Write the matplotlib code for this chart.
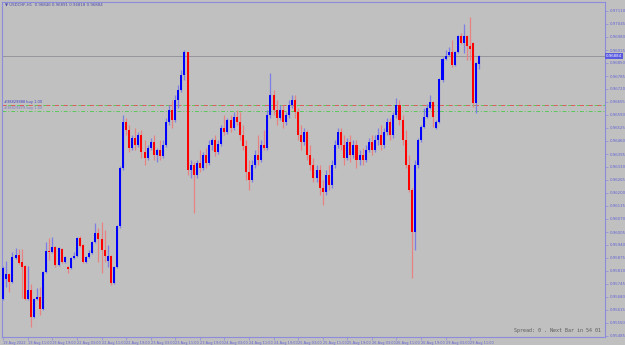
import matplotlib
matplotlib.use('Agg')
import matplotlib.pyplot as plt
import matplotlib.transforms as mtransforms
import numpy as np

# ---------------- data (USDCHF H1, 156 bars from 19 Aug 2022 03:00) ----------------
open_ = [0.95670, 0.95770, 0.95795, 0.95755, 0.95875, 0.95890, 0.95855, 0.95835, 0.95670, 0.95715,
         0.95580, 0.95670, 0.95680, 0.95620, 0.95805, 0.95910, 0.95905, 0.95930, 0.95840, 0.95920,
         0.95855, 0.95830, 0.95825, 0.95875, 0.95885, 0.95975, 0.95940, 0.95855, 0.95880, 0.95900,
         0.95955, 0.96000, 0.95970, 0.95915, 0.95860, 0.95885, 0.95750, 0.95830, 0.96035, 0.96325,
         0.96555, 0.96515, 0.96425, 0.96475, 0.96440, 0.96490, 0.96405, 0.96375, 0.96425, 0.96455,
         0.96390, 0.96415, 0.96385, 0.96440, 0.96555, 0.96615, 0.96565, 0.96665, 0.96715, 0.96790,
         0.96905, 0.96315, 0.96340, 0.96290, 0.96350, 0.96325, 0.96390, 0.96350, 0.96440, 0.96465,
         0.96405, 0.96445, 0.96525, 0.96505, 0.96565, 0.96525, 0.96580, 0.96555, 0.96490, 0.96435,
         0.96305, 0.96265, 0.96340, 0.96390, 0.96365, 0.96440, 0.96425, 0.96590, 0.96690, 0.96615,
         0.96575, 0.96615, 0.96555, 0.96590, 0.96640, 0.96665, 0.96605, 0.96490, 0.96455, 0.96505,
         0.96390, 0.96340, 0.96275, 0.96315, 0.96225, 0.96205, 0.96290, 0.96240, 0.96340, 0.96440,
         0.96505, 0.96440, 0.96375, 0.96455, 0.96390, 0.96440, 0.96365, 0.96390, 0.96365, 0.96415,
         0.96455, 0.96415, 0.96465, 0.96490, 0.96440, 0.96505, 0.96555, 0.96490, 0.96590, 0.96640,
         0.96565, 0.96465, 0.96340, 0.96215, 0.96005, 0.96340, 0.96465, 0.96530, 0.96580, 0.96625,
         0.96655, 0.96525, 0.96555, 0.96765, 0.96870, 0.96890, 0.96905, 0.96840, 0.96905, 0.96985,
         0.96950, 0.96985, 0.96935, 0.96950, 0.96650, 0.96846]
high = [0.95835, 0.95860, 0.95795, 0.95905, 0.95925, 0.95920, 0.95920, 0.95840, 0.95835, 0.95745,
        0.95675, 0.95725, 0.95730, 0.95810, 0.95955, 0.95975, 0.95980, 0.95935, 0.95930, 0.95925,
        0.95885, 0.95835, 0.95880, 0.95905, 0.95980, 0.95985, 0.95945, 0.95885, 0.95915, 0.95960,
        0.96050, 0.96025, 0.96055, 0.96015, 0.95940, 0.95890, 0.95835, 0.96040, 0.96335, 0.96590,
        0.96575, 0.96540, 0.96490, 0.96525, 0.96505, 0.96515, 0.96465, 0.96440, 0.96475, 0.96490,
        0.96425, 0.96465, 0.96465, 0.96575, 0.96640, 0.96665, 0.96690, 0.96740, 0.96815, 0.96915,
        0.96905, 0.96365, 0.96355, 0.96365, 0.96415, 0.96405, 0.96425, 0.96465, 0.96475, 0.96490,
        0.96465, 0.96540, 0.96590, 0.96575, 0.96590, 0.96605, 0.96615, 0.96605, 0.96540, 0.96465,
        0.96365, 0.96365, 0.96415, 0.96490, 0.96465, 0.96515, 0.96615, 0.96800, 0.96715, 0.96665,
        0.96640, 0.96640, 0.96605, 0.96665, 0.96690, 0.96690, 0.96625, 0.96540, 0.96525, 0.96515,
        0.96440, 0.96375, 0.96340, 0.96340, 0.96265, 0.96315, 0.96340, 0.96365, 0.96465, 0.96525,
        0.96525, 0.96490, 0.96475, 0.96490, 0.96465, 0.96465, 0.96415, 0.96425, 0.96440, 0.96475,
        0.96490, 0.96490, 0.96525, 0.96540, 0.96525, 0.96575, 0.96575, 0.96605, 0.96675, 0.96665,
        0.96590, 0.96515, 0.96390, 0.96225, 0.96365, 0.96475, 0.96540, 0.96625, 0.96645, 0.96690,
        0.96660, 0.96565, 0.96775, 0.96880, 0.96915, 0.96930, 0.96965, 0.96910, 0.96990, 0.97000,
        0.97045, 0.96990, 0.97080, 0.96955, 0.96855, 0.96891]
low = [0.95665, 0.95730, 0.95705, 0.95750, 0.95870, 0.95845, 0.95675, 0.95665, 0.95665, 0.95530,
       0.95575, 0.95665, 0.95590, 0.95615, 0.95800, 0.95865, 0.95900, 0.95830, 0.95835, 0.95850,
       0.95850, 0.95800, 0.95820, 0.95870, 0.95880, 0.95930, 0.95850, 0.95850, 0.95875, 0.95895,
       0.95950, 0.95855, 0.95800, 0.95855, 0.95830, 0.95740, 0.95745, 0.95825, 0.96025, 0.96315,
       0.96490, 0.96405, 0.96415, 0.96415, 0.96430, 0.96375, 0.96340, 0.96365, 0.96415, 0.96365,
       0.96355, 0.96365, 0.96375, 0.96430, 0.96540, 0.96525, 0.96555, 0.96625, 0.96705, 0.96765,
       0.96290, 0.96275, 0.96100, 0.96275, 0.96305, 0.96315, 0.96325, 0.96340, 0.96415, 0.96385,
       0.96395, 0.96435, 0.96490, 0.96495, 0.96505, 0.96515, 0.96540, 0.96465, 0.96415, 0.96265,
       0.96215, 0.96255, 0.96325, 0.96340, 0.96355, 0.96415, 0.96415, 0.96575, 0.96590, 0.96540,
       0.96565, 0.96525, 0.96540, 0.96575, 0.96625, 0.96575, 0.96465, 0.96415, 0.96440, 0.96365,
       0.96315, 0.96255, 0.96255, 0.96190, 0.96140, 0.96190, 0.96215, 0.96225, 0.96325, 0.96425,
       0.96415, 0.96340, 0.96365, 0.96355, 0.96375, 0.96325, 0.96340, 0.96340, 0.96355, 0.96405,
       0.96390, 0.96405, 0.96440, 0.96415, 0.96425, 0.96490, 0.96465, 0.96475, 0.96575, 0.96540,
       0.96440, 0.96325, 0.96205, 0.95775, 0.95915, 0.96325, 0.96455, 0.96525, 0.96575, 0.96620,
       0.96530, 0.96520, 0.96550, 0.96755, 0.96865, 0.96885, 0.96830, 0.96835, 0.96900, 0.96945,
       0.96900, 0.96865, 0.96865, 0.96630, 0.96600, 0.96818]
close = [0.95825, 0.95795, 0.95755, 0.95880, 0.95890, 0.95850, 0.95830, 0.95670, 0.95715, 0.95580,
         0.95670, 0.95680, 0.95620, 0.95805, 0.95910, 0.95905, 0.95930, 0.95840, 0.95925, 0.95855,
         0.95880, 0.95820, 0.95875, 0.95885, 0.95975, 0.95935, 0.95855, 0.95880, 0.95900, 0.95955,
         0.96000, 0.95970, 0.95915, 0.95885, 0.95885, 0.95750, 0.95830, 0.96035, 0.96325, 0.96555,
         0.96515, 0.96425, 0.96475, 0.96440, 0.96490, 0.96405, 0.96375, 0.96425, 0.96455, 0.96390,
         0.96415, 0.96385, 0.96440, 0.96555, 0.96615, 0.96565, 0.96665, 0.96715, 0.96790, 0.96905,
         0.96315, 0.96340, 0.96290, 0.96350, 0.96325, 0.96390, 0.96350, 0.96440, 0.96465, 0.96405,
         0.96445, 0.96525, 0.96505, 0.96565, 0.96525, 0.96580, 0.96555, 0.96490, 0.96435, 0.96305,
         0.96265, 0.96340, 0.96390, 0.96365, 0.96440, 0.96425, 0.96590, 0.96690, 0.96615, 0.96575,
         0.96615, 0.96555, 0.96590, 0.96640, 0.96665, 0.96605, 0.96490, 0.96455, 0.96505, 0.96390,
         0.96340, 0.96275, 0.96315, 0.96225, 0.96205, 0.96290, 0.96240, 0.96340, 0.96440, 0.96505,
         0.96440, 0.96375, 0.96455, 0.96390, 0.96440, 0.96365, 0.96390, 0.96365, 0.96415, 0.96455,
         0.96415, 0.96465, 0.96490, 0.96440, 0.96505, 0.96555, 0.96490, 0.96590, 0.96640, 0.96565,
         0.96465, 0.96340, 0.96215, 0.96005, 0.96340, 0.96465, 0.96530, 0.96580, 0.96625, 0.96655,
         0.96580, 0.96555, 0.96770, 0.96870, 0.96885, 0.96905, 0.96840, 0.96905, 0.96985, 0.96950,
         0.96985, 0.96935, 0.96920, 0.96650, 0.96850, 0.96884]

ytick_values = [0.95485, 0.95550, 0.95615, 0.95680, 0.95745, 0.95810, 0.95875, 0.95940, 0.96005,
                0.96070, 0.96135, 0.96200, 0.96265, 0.96330, 0.96395, 0.96460, 0.96525, 0.96590,
                0.96655, 0.96720, 0.96785, 0.96850, 0.96915, 0.96980, 0.97045, 0.97110]
xtick_bars = [0, 8, 16, 24, 32, 40, 48, 56, 64, 72, 80, 88, 96, 104, 112, 120, 128, 136, 144, 152]
xtick_labels = ["19 Aug 2022", "19 Aug 11:00", "19 Aug 19:00", "22 Aug 03:00", "22 Aug 11:00",
                "22 Aug 19:00", "23 Aug 03:00", "23 Aug 11:00", "23 Aug 19:00", "24 Aug 03:00",
                "24 Aug 11:00", "24 Aug 19:00", "25 Aug 03:00", "25 Aug 11:00", "25 Aug 19:00",
                "26 Aug 03:00", "26 Aug 11:00", "26 Aug 19:00", "29 Aug 03:00", "29 Aug 11:00"]
current_price = 0.96884
order_levels = [0.96640, 0.96610]
order_labels = ["#38829888 buy 1.00", "#38829879 buy 1.00"]
title_text = "\u25bc USDCHF,H1  0.96846 0.96891 0.96818 0.96884"
status_text = "Spread: 0 . Next Bar in 54 01"

# ---------------- drawing ----------------
BG = '#c0c0c0'
AXC = '#8c8cdc'
fig = plt.figure(figsize=(6.25, 3.45), dpi=100, facecolor=BG)
ax = fig.add_axes([2 / 625, 8 / 345, 603 / 625, 335 / 345])
ax.set_facecolor(BG)

o = np.array(open_); h = np.array(high); l = np.array(low); c = np.array(close)
idx = np.arange(len(o))
bull = c >= o
body_col = np.where(bull, '#0000ff', '#ff0000')
wick_col = np.where(bull, '#7d7de6', '#e68282')

ax.vlines(idx, l, h, colors=wick_col, linewidth=0.9, zorder=2)
body_h = np.maximum(np.abs(c - o), 0.00003)
ax.bar(idx, body_h, bottom=np.minimum(o, c), width=0.66, color=body_col,
       linewidth=0, zorder=3)

ax.set_xlim(-0.4, 195.9)
ax.set_ylim(0.95480, 0.97155)

# current price line
ax.axhline(current_price, color='#8e8e96', linewidth=0.6, zorder=1)
# order lines (dash-dot, red level drawn over a green one)
ax.axhline(order_levels[0], color='#5ac85a', linewidth=0.7, linestyle=(3, (4, 2, 1, 2)), zorder=1)
ax.axhline(order_levels[0], color='#e05a5a', linewidth=0.7, linestyle=(0, (4, 5)), zorder=1)
ax.axhline(order_levels[1], color='#5ac85a', linewidth=0.7, linestyle=(0, (4, 2, 1, 2)), zorder=1)
trans = mtransforms.blended_transform_factory(ax.transAxes, ax.transData)
ax.text(0.004, order_levels[0] + 0.00003, order_labels[0], transform=trans, fontsize=2.6,
        color='#4040c8', ha='left', va='bottom')
ax.text(0.004, order_levels[1] + 0.00003, order_labels[1], transform=trans, fontsize=2.6,
        color='#7a7ac0', ha='left', va='bottom')

for s in ax.spines.values():
    s.set_color(AXC)
    s.set_linewidth(0.8)

ax.yaxis.tick_right()
ax.set_yticks(ytick_values)
ax.set_yticklabels([f"{v:.5f}" for v in ytick_values])
ax.tick_params(axis='y', direction='out', length=2, width=0.5, colors=AXC,
               labelcolor='#6262d6', labelsize=2.8, pad=1.2)
ax.set_xticks(xtick_bars)
ax.set_xticklabels(xtick_labels, ha='left')
ax.tick_params(axis='x', direction='out', length=2, width=0.5, colors=AXC,
               labelcolor='#6262d6', labelsize=2.5, pad=0.6)

# price box
ax.text(1.002, current_price, f"{current_price:.5f}", transform=trans, fontsize=2.8,
        color='white', ha='left', va='center',
        bbox=dict(boxstyle='square,pad=0.25', facecolor='#5a5ae0', edgecolor='none'))

fig.text(5 / 625, 1 - 5 / 345, title_text, fontsize=2.8, color='#4a4aa8', ha='left', va='center')
ax.text(0.993, 0.012, status_text, transform=ax.transAxes, fontsize=3.6,
        family='DejaVu Sans Mono', color='#5a5a5a', ha='right', va='bottom')

fig.savefig('out.png', dpi=100, facecolor=BG)
